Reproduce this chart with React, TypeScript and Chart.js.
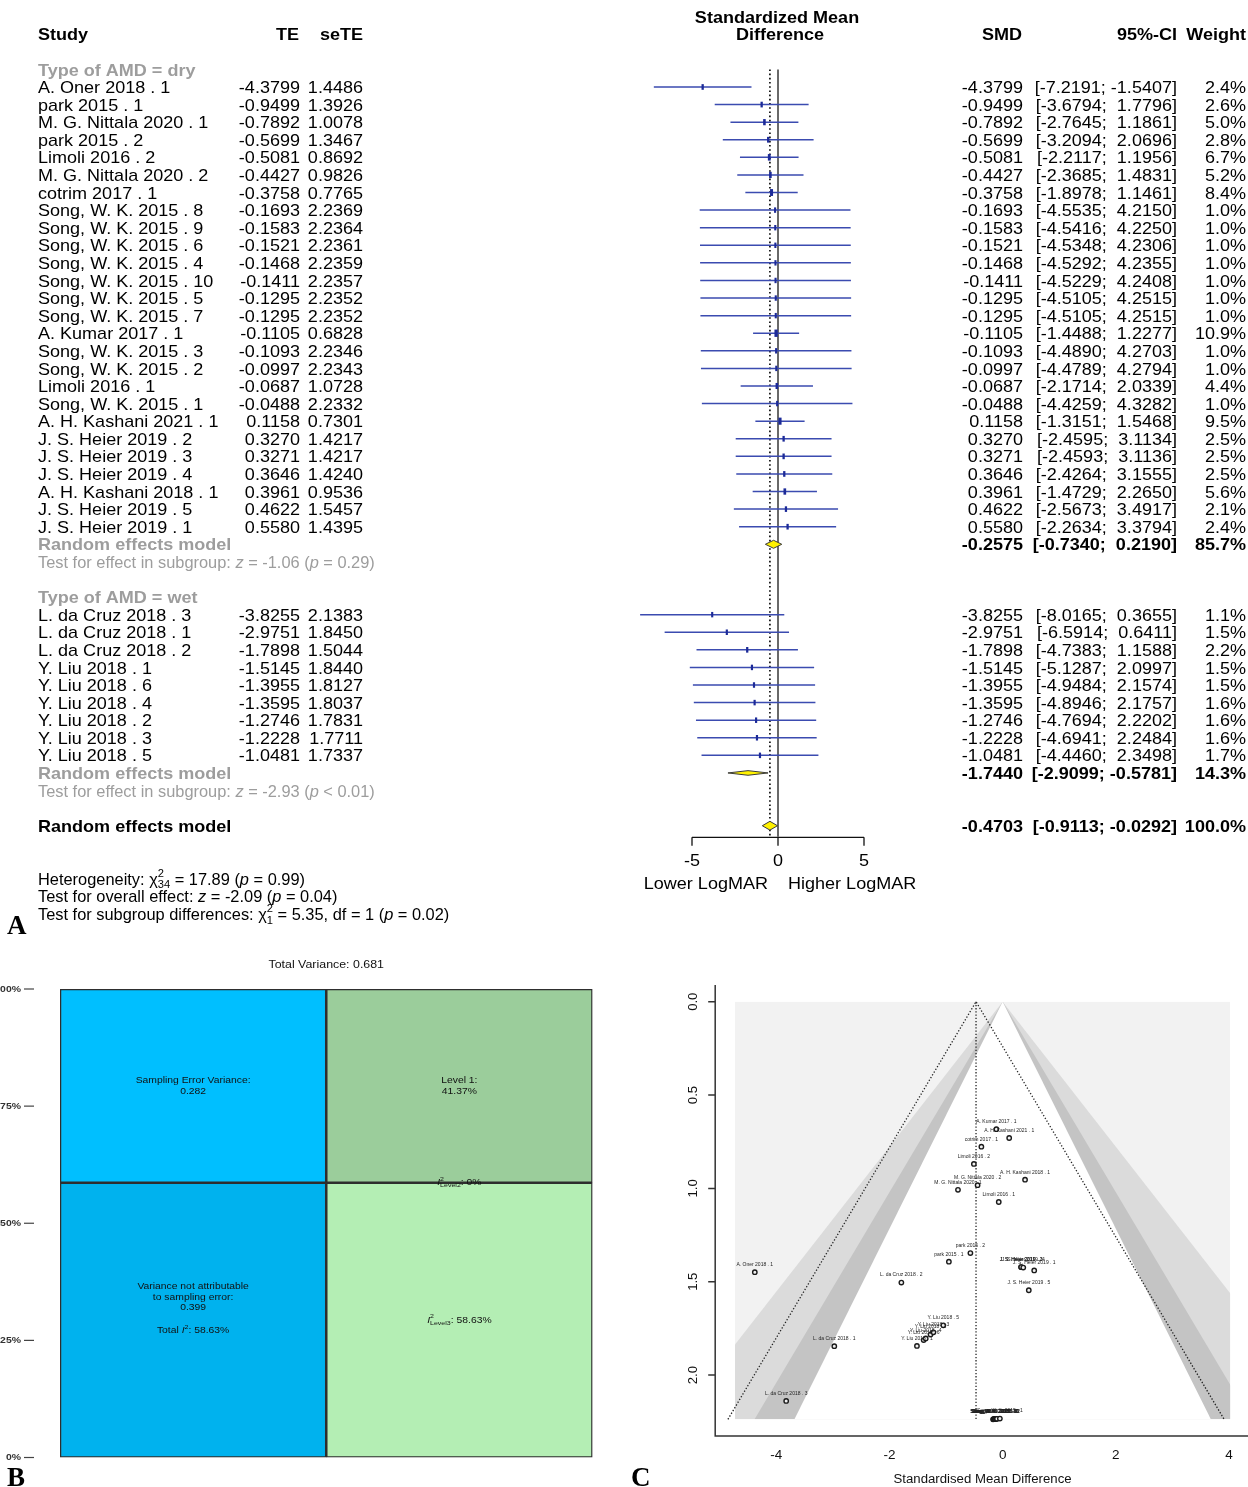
import React, { useEffect, useRef } from 'react';
import { Chart, registerables } from 'chart.js';

Chart.register(...registerables);

const SANS = '"Liberation Sans", Arial, Helvetica, sans-serif';
const SERIF = '"Liberation Serif", "Times New Roman", serif';

// ---------- Studies, dry AMD ----------
const dryStudies = [
  'A. Oner 2018 . 1', 'park 2015 . 1', 'M. G. Nittala 2020 . 1', 'park 2015 . 2', 'Limoli 2016 . 2',
  'M. G. Nittala 2020 . 2', 'cotrim 2017 . 1', 'Song, W. K. 2015 . 8', 'Song, W. K. 2015 . 9',
  'Song, W. K. 2015 . 6', 'Song, W. K. 2015 . 4', 'Song, W. K. 2015 . 10', 'Song, W. K. 2015 . 5',
  'Song, W. K. 2015 . 7', 'A. Kumar 2017 . 1', 'Song, W. K. 2015 . 3', 'Song, W. K. 2015 . 2',
  'Limoli 2016 . 1', 'Song, W. K. 2015 . 1', 'A. H. Kashani 2021 . 1', 'J. S. Heier 2019 . 2',
  'J. S. Heier 2019 . 3', 'J. S. Heier 2019 . 4', 'A. H. Kashani 2018 . 1', 'J. S. Heier 2019 . 5',
  'J. S. Heier 2019 . 1',
];
const dryTE = [
  -4.3799, -0.9499, -0.7892, -0.5699, -0.5081, -0.4427, -0.3758, -0.1693, -0.1583, -0.1521, -0.1468,
  -0.1411, -0.1295, -0.1295, -0.1105, -0.1093, -0.0997, -0.0687, -0.0488, 0.1158, 0.327, 0.3271,
  0.3646, 0.3961, 0.4622, 0.558,
];
const drySE = [
  1.4486, 1.3926, 1.0078, 1.3467, 0.8692, 0.9826, 0.7765, 2.2369, 2.2364, 2.2361, 2.2359, 2.2357,
  2.2352, 2.2352, 0.6828, 2.2346, 2.2343, 1.0728, 2.2332, 0.7301, 1.4217, 1.4217, 1.424, 0.9536,
  1.5457, 1.4395,
];
const dryLower = [
  -7.2191, -3.6794, -2.7645, -3.2094, -2.2117, -2.3685, -1.8978, -4.5535, -4.5416, -4.5348, -4.5292,
  -4.5229, -4.5105, -4.5105, -1.4488, -4.489, -4.4789, -2.1714, -4.4259, -1.3151, -2.4595, -2.4593,
  -2.4264, -1.4729, -2.5673, -2.2634,
];
const dryUpper = [
  -1.5407, 1.7796, 1.1861, 2.0696, 1.1956, 1.4831, 1.1461, 4.215, 4.225, 4.2306, 4.2355, 4.2408,
  4.2515, 4.2515, 1.2277, 4.2703, 4.2794, 2.0339, 4.3282, 1.5468, 3.1134, 3.1136, 3.1555, 2.265,
  3.4917, 3.3794,
];
const dryWeight = [
  2.4, 2.6, 5.0, 2.8, 6.7, 5.2, 8.4, 1.0, 1.0, 1.0, 1.0, 1.0, 1.0, 1.0, 10.9, 1.0, 1.0, 4.4, 1.0, 9.5,
  2.5, 2.5, 2.5, 5.6, 2.1, 2.4,
];

// ---------- Studies, wet AMD ----------
const wetStudies = [
  'L. da Cruz 2018 . 3', 'L. da Cruz 2018 . 1', 'L. da Cruz 2018 . 2', 'Y. Liu 2018 . 1', 'Y. Liu 2018 . 6',
  'Y. Liu 2018 . 4', 'Y. Liu 2018 . 2', 'Y. Liu 2018 . 3', 'Y. Liu 2018 . 5',
];
const wetTE = [-3.8255, -2.9751, -1.7898, -1.5145, -1.3955, -1.3595, -1.2746, -1.2228, -1.0481];
const wetSE = [2.1383, 1.845, 1.5044, 1.844, 1.8127, 1.8037, 1.7831, 1.7711, 1.7337];
const wetLower = [-8.0165, -6.5914, -4.7383, -5.1287, -4.9484, -4.8946, -4.7694, -4.6941, -4.446];
const wetUpper = [0.3655, 0.6411, 1.1588, 2.0997, 2.1574, 2.1757, 2.2202, 2.2484, 2.3498];
const wetWeight = [1.1, 1.5, 2.2, 1.5, 1.5, 1.6, 1.6, 1.6, 1.7];

// ---------- Pooled random effects estimates: dry, wet, overall ----------
const pooledSMD = [-0.2575, -1.744, -0.4703];
const pooledLower = [-0.734, -2.9099, -0.9113];
const pooledUpper = [0.219, -0.5781, -0.0292];
const pooledWeight = [85.7, 14.3, 100.0];

const subgroupNames = ['dry', 'wet'];
const subgroupZ = ['-1.06', '-2.93'];
const subgroupP = ['= 0.29', '< 0.01'];

const heterogeneityQ = '17.89';
const heterogeneityDf = '34';
const heterogeneityP = '0.99';
const overallZ = '-2.09';
const overallP = '0.04';
const subgroupDiffQ = '5.35';
const subgroupDiffDf = '1';
const subgroupDiffP = '0.02';

const forestTicks = [-5, 0, 5];

// ---------- Funnel plot ----------
const funnelXTicks = [-4, -2, 0, 2, 4];
const funnelYTicks = [0, 0.5, 1, 1.5, 2];
const contourZ = [2.576, 1.96, 1.645];
const contourFill = ['#DBDBDB', '#C4C4C4', '#FFFFFF'];

// ---------- Variance distribution ----------
const totalVariance = 0.681;
const samplingErrorVariance = 0.282;
const nonSamplingVariance = 0.399;
const totalI2 = 58.63;
const samplingShare = 41.37;
const level1Share = 41.37;
const level2Share = 0;
const level3Share = 58.63;
const percentTicks = [0, 25, 50, 75, 100];

type Seg = { t: string; italic?: boolean; sup?: string; sub?: string };
type TextOpt = { size: number; bold?: boolean; color?: string; align?: 'left' | 'right' | 'center'; sx?: number };

function fontStr(size: number, bold?: boolean, italic?: boolean) {
  return `${italic ? 'italic ' : ''}${bold ? 'bold ' : ''}${size}px ${SANS}`;
}

function measureRich(ctx: CanvasRenderingContext2D, segs: Seg[], size: number, bold?: boolean) {
  let w = 0;
  for (const s of segs) {
    ctx.font = fontStr(size, bold, s.italic);
    w += ctx.measureText(s.t).width;
    if (s.sup || s.sub) {
      ctx.font = fontStr(size * 0.68, bold);
      w += Math.max(s.sup ? ctx.measureText(s.sup).width : 0, s.sub ? ctx.measureText(s.sub).width : 0);
    }
  }
  return w;
}

function drawRich(ctx: CanvasRenderingContext2D, segs: Seg[], x: number, y: number, opt: TextOpt) {
  const sx = opt.sx ?? 1;
  ctx.save();
  ctx.translate(x, y);
  ctx.scale(sx, 1);
  ctx.fillStyle = opt.color ?? '#000';
  ctx.textBaseline = 'middle';
  ctx.textAlign = 'left';
  const w = measureRich(ctx, segs, opt.size, opt.bold);
  let cx = opt.align === 'right' ? -w : opt.align === 'center' ? -w / 2 : 0;
  for (const s of segs) {
    ctx.font = fontStr(opt.size, opt.bold, s.italic);
    ctx.fillText(s.t, cx, 0);
    cx += ctx.measureText(s.t).width;
    if (s.sup || s.sub) {
      ctx.font = fontStr(opt.size * 0.68, opt.bold);
      let adv = 0;
      if (s.sup) {
        ctx.fillText(s.sup, cx, -opt.size * 0.4);
        adv = ctx.measureText(s.sup).width;
      }
      if (s.sub) {
        ctx.fillText(s.sub, cx, opt.size * 0.32);
        adv = Math.max(adv, ctx.measureText(s.sub).width);
      }
      cx += adv;
    }
  }
  ctx.restore();
}

function drawText(ctx: CanvasRenderingContext2D, t: string, x: number, y: number, opt: TextOpt) {
  drawRich(ctx, [{ t }], x, y, opt);
}

const fmt4 = (v: number) => v.toFixed(4);
const fmtCI = (lo: number, hi: number) => `[${fmt4(lo)}; ${hi < 0 ? '' : ' '}${fmt4(hi)}]`;

// ---------- Forest plot (panel A) ----------
function ForestPlot() {
  const ref = useRef<HTMLCanvasElement>(null);
  useEffect(() => {
    const wetHeaderRow = dryStudies.length + 3;
    const wetStart = wetHeaderRow + 1;
    const drySummaryRow = dryStudies.length;
    const wetSummaryRow = wetStart + wetStudies.length;
    const overallRow = wetSummaryRow + 3;

    const names = [...dryStudies, ...wetStudies];
    const te = [...dryTE, ...wetTE];
    const se = [...drySE, ...wetSE];
    const lo = [...dryLower, ...wetLower];
    const hi = [...dryUpper, ...wetUpper];
    const wt = [...dryWeight, ...wetWeight];
    const rows = [...dryStudies.map((_, i) => i), ...wetStudies.map((_, i) => wetStart + i)];

    const segments: { x: number; y: number }[] = [];
    names.forEach((_, i) => {
      segments.push({ x: lo[i], y: rows[i] }, { x: hi[i], y: rows[i] }, { x: NaN, y: NaN });
    });
    const markers = names.map((_, i) => ({ x: te[i], y: rows[i] }));
    const topRow = -1;
    const bottomRow = overallRow + 0.63;

    const FS = 16.4;
    const SX = 1.1;
    const DY = 1.6;
    const GRAY = '#9d9d9d';

    const forestText = {
      id: 'forestText',
      afterDatasetsDraw(chart: any) {
        const { ctx, scales } = chart;
        const xs = scales.x;
        const ys = scales.y;
        // pooled diamonds
        const summaryRows = [drySummaryRow, wetSummaryRow, overallRow];
        const halfH = [4, 2.3, 4.4];
        summaryRows.forEach((r, k) => {
          const yc = ys.getPixelForValue(r);
          ctx.save();
          ctx.beginPath();
          ctx.moveTo(xs.getPixelForValue(pooledLower[k]), yc);
          ctx.lineTo(xs.getPixelForValue(pooledSMD[k]), yc - halfH[k]);
          ctx.lineTo(xs.getPixelForValue(pooledUpper[k]), yc);
          ctx.lineTo(xs.getPixelForValue(pooledSMD[k]), yc + halfH[k]);
          ctx.closePath();
          ctx.fillStyle = '#FFF200';
          ctx.fill();
          ctx.lineWidth = 1;
          ctx.strokeStyle = '#3a3a3a';
          ctx.stroke();
          ctx.restore();
        });
      },
      afterDraw(chart: any) {
        const { ctx, scales, chartArea } = chart;
        const xs = scales.x;
        const ys = scales.y;
        const Y = (r: number) => ys.getPixelForValue(r) + DY;
        const base: TextOpt = { size: FS, sx: SX, color: '#000' };
        const bold: TextOpt = { ...base, bold: true };
        const note: TextOpt = { ...base, sx: 1.0 };
        const x0 = xs.getPixelForValue(0);

        // column headers
        drawText(ctx, 'Standardized Mean', x0 - 1, Y(-4), { ...bold, align: 'center' });
        drawText(ctx, 'Difference', x0 + 2, Y(-3), { ...bold, align: 'center' });
        drawText(ctx, 'Study', 38, Y(-3), bold);
        drawText(ctx, 'TE', 299, Y(-3), { ...bold, align: 'right' });
        drawText(ctx, 'seTE', 363, Y(-3), { ...bold, align: 'right' });
        drawText(ctx, 'SMD', 1022, Y(-3), { ...bold, align: 'right' });
        drawText(ctx, '95%-CI', 1177, Y(-3), { ...bold, align: 'right' });
        drawText(ctx, 'Weight', 1246, Y(-3), { ...bold, align: 'right' });

        // subgroup headings
        drawText(ctx, `Type of AMD = ${subgroupNames[0]}`, 38, Y(-1), { ...bold, color: GRAY });
        drawText(ctx, `Type of AMD = ${subgroupNames[1]}`, 38, Y(wetHeaderRow), { ...bold, color: GRAY });

        // study rows
        names.forEach((n, i) => {
          const y = Y(rows[i]);
          drawText(ctx, n, 38, y, base);
          drawText(ctx, fmt4(te[i]), 300, y, { ...base, align: 'right' });
          drawText(ctx, fmt4(se[i]), 363, y, { ...base, align: 'right' });
          drawText(ctx, fmt4(te[i]), 1023, y, { ...base, align: 'right' });
          drawText(ctx, fmtCI(lo[i], hi[i]), 1177, y, { ...base, align: 'right' });
          drawText(ctx, `${wt[i].toFixed(1)}%`, 1246, y, { ...base, align: 'right' });
        });

        // pooled rows
        const summaryRows = [drySummaryRow, wetSummaryRow, overallRow];
        summaryRows.forEach((r, k) => {
          const y = Y(r);
          drawText(ctx, 'Random effects model', 38, y, { ...bold, color: k < 2 ? GRAY : '#000' });
          drawText(ctx, fmt4(pooledSMD[k]), 1023, y, { ...bold, align: 'right' });
          drawText(ctx, fmtCI(pooledLower[k], pooledUpper[k]), 1177, y, { ...bold, align: 'right' });
          drawText(ctx, `${pooledWeight[k].toFixed(1)}%`, 1246, y, { ...bold, align: 'right' });
          if (k < 2) {
            drawRich(
              ctx,
              [
                { t: 'Test for effect in subgroup: ' },
                { t: 'z', italic: true },
                { t: ` = ${subgroupZ[k]} (` },
                { t: 'p', italic: true },
                { t: ` ${subgroupP[k]})` },
              ],
              38,
              Y(r + 1),
              { ...note, color: GRAY },
            );
          }
        });

        // heterogeneity and tests
        const r0 = overallRow + 3;
        drawRich(
          ctx,
          [
            { t: 'Heterogeneity: ' },
            { t: 'χ', sup: '2', sub: heterogeneityDf },
            { t: ` = ${heterogeneityQ} (` },
            { t: 'p', italic: true },
            { t: ` = ${heterogeneityP})` },
          ],
          38,
          Y(r0),
          note,
        );
        drawRich(
          ctx,
          [
            { t: 'Test for overall effect: ' },
            { t: 'z', italic: true },
            { t: ` = ${overallZ} (` },
            { t: 'p', italic: true },
            { t: ` = ${overallP})` },
          ],
          38,
          Y(r0 + 1),
          note,
        );
        drawRich(
          ctx,
          [
            { t: 'Test for subgroup differences: ' },
            { t: 'χ', sup: '2', sub: subgroupDiffDf },
            { t: ` = ${subgroupDiffQ}, df = ${subgroupDiffDf} (` },
            { t: 'p', italic: true },
            { t: ` = ${subgroupDiffP})` },
          ],
          38,
          Y(r0 + 2),
          note,
        );

        // x axis
        const ay = chartArea.bottom + 0.5;
        ctx.save();
        ctx.strokeStyle = '#111';
        ctx.lineWidth = 1.3;
        ctx.beginPath();
        ctx.moveTo(xs.getPixelForValue(forestTicks[0]), ay);
        ctx.lineTo(xs.getPixelForValue(forestTicks[forestTicks.length - 1]), ay);
        forestTicks.forEach((t) => {
          const px = xs.getPixelForValue(t);
          ctx.moveTo(px, ay);
          ctx.lineTo(px, ay + 8.5);
        });
        ctx.stroke();
        ctx.restore();
        forestTicks.forEach((t) => {
          drawText(ctx, String(t), xs.getPixelForValue(t), ay + 24, { ...base, align: 'center' });
        });
        drawText(ctx, 'Lower LogMAR', x0 - 10, ay + 47, { ...base, align: 'right' });
        drawText(ctx, 'Higher LogMAR', x0 + 10, ay + 47, { ...base, align: 'left' });

        // panel letter
        ctx.save();
        ctx.font = `bold 27px ${SERIF}`;
        ctx.fillStyle = '#000';
        ctx.textBaseline = 'alphabetic';
        ctx.textAlign = 'left';
        ctx.fillText('A', 7, 934);
        ctx.restore();
      },
    };

    const chart = new Chart(ref.current as HTMLCanvasElement, {
      type: 'scatter',
      data: {
        datasets: [
          {
            label: 'Study estimate',
            data: markers,
            pointStyle: 'line',
            rotation: 90,
            pointRadius: (c: any) => 2.6 + (wt[c.dataIndex] ?? 1) * 0.1,
            pointBorderWidth: (c: any) => 2 + (wt[c.dataIndex] ?? 1) * 0.12,
            pointBorderColor: '#1c2a98',
            showLine: false,
            clip: false,
          } as any,
          {
            label: '95%-CI',
            data: segments,
            showLine: true,
            spanGaps: false,
            borderColor: '#3b4bb0',
            borderWidth: 1.5,
            pointRadius: 0,
            clip: false,
          } as any,
          {
            label: 'No effect',
            data: [
              { x: 0, y: topRow },
              { x: 0, y: bottomRow },
            ],
            showLine: true,
            borderColor: '#1a1a1a',
            borderWidth: 1.3,
            pointRadius: 0,
            clip: false,
          } as any,
          {
            label: 'Overall effect',
            data: [
              { x: pooledSMD[2], y: topRow },
              { x: pooledSMD[2], y: bottomRow },
            ],
            showLine: true,
            borderColor: '#1a1a1a',
            borderWidth: 1.8,
            borderDash: [1.6, 2.6],
            pointRadius: 0,
            clip: false,
          } as any,
        ],
      },
      options: {
        responsive: false,
        animation: false,
        devicePixelRatio: 1,
        events: [],
        layout: { padding: { left: 692, right: 384, top: 51.8, bottom: 108.2 } },
        scales: {
          x: { type: 'linear', min: -5, max: 5, display: false },
          y: { type: 'linear', min: -2, max: 42.63, reverse: true, display: false },
        },
        plugins: { legend: { display: false }, tooltip: { enabled: false } },
      },
      plugins: [forestText],
    } as any);
    return () => chart.destroy();
  }, []);
  return (
    <canvas
      ref={ref}
      width={1248}
      height={945}
      style={{ position: 'absolute', left: 0, top: 0, width: 1248, height: 945 }}
    />
  );
}

// ---------- Variance distribution (panel B) ----------
function VariancePlot() {
  const ref = useRef<HTMLCanvasElement>(null);
  useEffect(() => {
    const TS = 9;
    const TSX = 1.15;
    const labelsPlugin = {
      id: 'varianceLabels',
      afterDraw(chart: any) {
        const { ctx, chartArea: a, scales } = chart;
        const ys = scales.y;
        const opt: TextOpt = { size: TS, sx: TSX, align: 'center', color: '#111' };
        drawText(ctx, `Total Variance: ${totalVariance.toFixed(3)}`, (a.left + a.right) / 2, 20, {
          ...opt,
          size: 10.5,
          sx: 1.18,
        });
        // percentage axis
        ctx.save();
        ctx.strokeStyle = '#444';
        ctx.lineWidth = 1.2;
        percentTicks.forEach((p) => {
          const y = ys.getPixelForValue(p);
          ctx.beginPath();
          ctx.moveTo(24, y);
          ctx.lineTo(34, y);
          ctx.stroke();
        });
        ctx.restore();
        percentTicks.forEach((p) => {
          drawText(ctx, `${p}%`, 21, ys.getPixelForValue(p), {
            size: 9.5,
            bold: true,
            sx: 1.1,
            align: 'right',
            color: '#333',
          });
        });

        const mid = (dsi: number, j: number) => {
          const el = chart.getDatasetMeta(dsi).data[j];
          return { x: el.x, y: (el.y + el.base) / 2 };
        };
        const lh = 10.4;
        // sampling error
        let c = mid(1, 0);
        drawText(ctx, 'Sampling Error Variance:', c.x, c.y - lh / 2, opt);
        drawText(ctx, samplingErrorVariance.toFixed(3), c.x, c.y + lh / 2, opt);
        // non-sampling variance
        c = mid(0, 0);
        drawText(ctx, 'Variance not attributable', c.x, c.y - 33.5, opt);
        drawText(ctx, 'to sampling error:', c.x, c.y - 23, opt);
        drawText(ctx, nonSamplingVariance.toFixed(3), c.x, c.y - 12.6, opt);
        drawRich(
          ctx,
          [{ t: 'Total ' }, { t: 'I', italic: true, sup: '2' }, { t: `: ${totalI2.toFixed(2)}%` }],
          c.x,
          c.y + 10.8,
          opt,
        );
        // level 1
        c = mid(4, 1);
        drawText(ctx, 'Level 1:', c.x, c.y - lh / 2, opt);
        drawText(ctx, `${level1Share.toFixed(2)}%`, c.x, c.y + lh / 2, opt);
        // level 2
        c = mid(3, 1);
        drawRich(
          ctx,
          [{ t: 'I', italic: true, sup: '2', sub: 'Level2' }, { t: `: ${level2Share}%` }],
          c.x,
          c.y,
          opt,
        );
        // level 3
        c = mid(2, 1);
        drawRich(
          ctx,
          [{ t: 'I', italic: true, sup: '2', sub: 'Level3' }, { t: `: ${level3Share.toFixed(2)}%` }],
          c.x,
          c.y,
          opt,
        );

        ctx.save();
        ctx.font = `bold 27px ${SERIF}`;
        ctx.fillStyle = '#000';
        ctx.textBaseline = 'alphabetic';
        ctx.fillText('B', 7, 541);
        ctx.restore();
      },
    };

    const barStyle = { borderWidth: 1.6, borderColor: '#2e2e2e', borderSkipped: false };
    const chart = new Chart(ref.current as HTMLCanvasElement, {
      type: 'bar',
      data: {
        labels: ['Variance', 'Levels'],
        datasets: [
          { label: 'Variance not attributable to sampling error', data: [totalI2, null], backgroundColor: '#00B2EE', ...barStyle },
          { label: 'Sampling error variance', data: [samplingShare, null], backgroundColor: '#00BFFF', ...barStyle },
          { label: 'Level 3', data: [null, level3Share], backgroundColor: '#B4EEB4', ...barStyle },
          { label: 'Level 2', data: [null, level2Share], backgroundColor: '#B4EEB4', ...barStyle },
          { label: 'Level 1', data: [null, level1Share], backgroundColor: '#9BCD9B', ...barStyle },
        ],
      },
      options: {
        responsive: false,
        animation: false,
        devicePixelRatio: 1,
        events: [],
        barPercentage: 1,
        categoryPercentage: 1,
        layout: { padding: { left: 60, right: 17.5, top: 44, bottom: 29.5 } },
        scales: {
          x: { stacked: true, display: false },
          y: { stacked: true, min: 0, max: 100, display: false },
        },
        plugins: { legend: { display: false }, tooltip: { enabled: false } },
      },
      plugins: [labelsPlugin],
    } as any);
    return () => chart.destroy();
  }, []);
  return (
    <canvas
      ref={ref}
      width={610}
      height={542}
      style={{ position: 'absolute', left: 0, top: 945, width: 610, height: 542 }}
    />
  );
}

// ---------- Contour-enhanced funnel plot (panel C) ----------
function FunnelPlot() {
  const ref = useRef<HTMLCanvasElement>(null);
  useEffect(() => {
    const names = [...dryStudies, ...wetStudies];
    const te = [...dryTE, ...wetTE];
    const se = [...drySE, ...wetSE];
    const seMax = Math.max(...se);
    const est = pooledSMD[2];

    const shading = {
      id: 'contourShading',
      beforeDatasetsDraw(chart: any) {
        const { ctx, chartArea: a, scales } = chart;
        const xs = scales.x;
        const ys = scales.y;
        ctx.save();
        ctx.beginPath();
        ctx.rect(a.left, a.top, a.right - a.left, a.bottom - a.top);
        ctx.clip();
        ctx.fillStyle = '#F2F2F2';
        ctx.fillRect(a.left, a.top, a.right - a.left, a.bottom - a.top);
        contourZ.forEach((z, i) => {
          ctx.beginPath();
          ctx.moveTo(xs.getPixelForValue(0), ys.getPixelForValue(0));
          ctx.lineTo(xs.getPixelForValue(-z * seMax), ys.getPixelForValue(seMax));
          ctx.lineTo(xs.getPixelForValue(z * seMax), ys.getPixelForValue(seMax));
          ctx.closePath();
          ctx.fillStyle = contourFill[i];
          ctx.fill();
        });
        ctx.restore();
      },
      afterDraw(chart: any) {
        const { ctx, chartArea: a, scales } = chart;
        const xs = scales.x;
        const ys = scales.y;
        // study labels
        names.forEach((n, i) => {
          drawText(ctx, n, xs.getPixelForValue(te[i]), ys.getPixelForValue(se[i]) - 7.5, {
            size: 5,
            align: 'center',
            color: '#222',
          });
        });
        // frame (left and bottom)
        const w = a.right - a.left;
        const h = a.bottom - a.top;
        const fl = a.left - 0.04 * w;
        const fb = a.bottom + 0.04 * h;
        const ft = a.top - 0.04 * h;
        ctx.save();
        ctx.strokeStyle = '#333';
        ctx.lineWidth = 1.5;
        ctx.beginPath();
        ctx.moveTo(fl, ft);
        ctx.lineTo(fl, fb);
        ctx.lineTo(a.right + 0.04 * w, fb);
        funnelYTicks.forEach((t) => {
          const y = ys.getPixelForValue(t);
          ctx.moveTo(fl, y);
          ctx.lineTo(fl - 7, y);
        });
        ctx.stroke();
        ctx.restore();
        funnelYTicks.forEach((t) => {
          const y = ys.getPixelForValue(t);
          ctx.save();
          ctx.translate(fl - 22, y);
          ctx.rotate(-Math.PI / 2);
          drawText(ctx, t.toFixed(1), 0, 0, { size: 12.5, sx: 1.05, align: 'center', color: '#111' });
          ctx.restore();
        });
        funnelXTicks.forEach((t) => {
          drawText(ctx, String(t), xs.getPixelForValue(t), fb + 20, {
            size: 12.5,
            sx: 1.08,
            align: 'center',
            color: '#111',
          });
        });
        drawText(ctx, 'Standardised Mean Difference', (a.left + a.right) / 2, fb + 44, {
          size: 12,
          sx: 1.1,
          align: 'center',
          color: '#111',
        });
        ctx.save();
        ctx.font = `bold 27px ${SERIF}`;
        ctx.fillStyle = '#000';
        ctx.textBaseline = 'alphabetic';
        ctx.fillText('C', 11, 541);
        ctx.restore();
      },
    };

    const chart = new Chart(ref.current as HTMLCanvasElement, {
      type: 'scatter',
      data: {
        datasets: [
          {
            label: 'Studies',
            data: names.map((_, i) => ({ x: te[i], y: se[i] })),
            pointRadius: 2.2,
            pointBorderWidth: 1.4,
            pointBorderColor: '#1a1a1a',
            pointBackgroundColor: '#f0f0f0',
            showLine: false,
            clip: false,
          } as any,
          {
            label: 'Pseudo confidence limits',
            data: [
              { x: est - 1.96 * seMax, y: seMax },
              { x: est, y: 0 },
              { x: est + 1.96 * seMax, y: seMax },
            ],
            showLine: true,
            borderColor: '#222',
            borderWidth: 1.3,
            borderDash: [1.3, 1.9],
            pointRadius: 0,
            clip: false,
          } as any,
          {
            label: 'Pooled estimate',
            data: [
              { x: est, y: 0 },
              { x: est, y: seMax },
            ],
            showLine: true,
            borderColor: '#222',
            borderWidth: 1.3,
            borderDash: [1.3, 1.9],
            pointRadius: 0,
            clip: false,
          } as any,
        ],
      },
      options: {
        responsive: false,
        animation: false,
        devicePixelRatio: 1,
        events: [],
        layout: { padding: { left: 115, right: 17.9, top: 56.7, bottom: 67.7 } },
        scales: {
          x: { type: 'linear', min: -4.73, max: 4.02, display: false },
          y: { type: 'linear', min: 0, max: seMax, reverse: true, display: false },
        },
        plugins: { legend: { display: false }, tooltip: { enabled: false } },
      },
      plugins: [shading],
    } as any);
    return () => chart.destroy();
  }, []);
  return (
    <canvas
      ref={ref}
      width={628}
      height={542}
      style={{ position: 'absolute', left: 620, top: 945, width: 628, height: 542 }}
    />
  );
}

export default function App() {
  return (
    <div
      style={{
        position: 'absolute',
        left: 0,
        top: 0,
        width: 1248,
        height: 1487,
        background: '#ffffff',
        overflow: 'hidden',
      }}
    >
      <ForestPlot />
      <VariancePlot />
      <FunnelPlot />
    </div>
  );
}
